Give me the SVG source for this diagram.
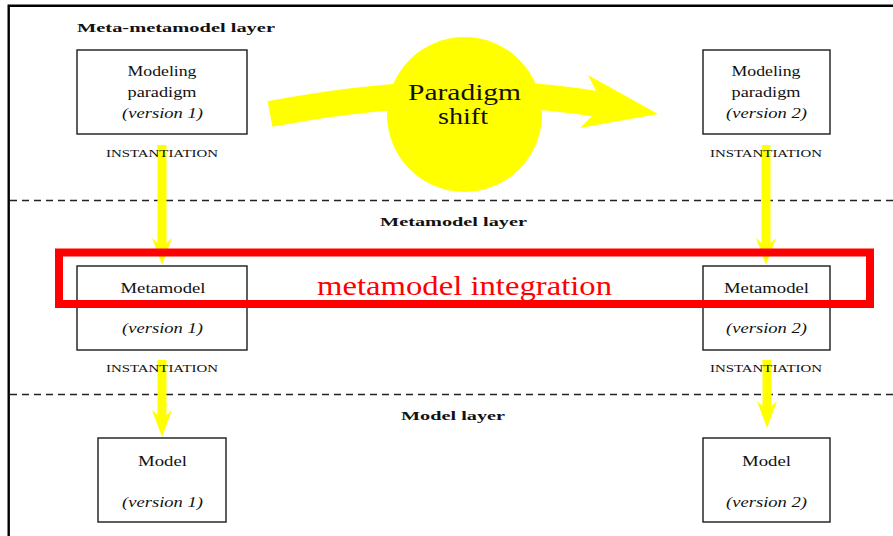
<svg xmlns="http://www.w3.org/2000/svg" width="893" height="536" viewBox="0 0 893 536">
  <style>
    .frame { stroke: #000; stroke-width: 2.4; fill: none; }
    .sep { stroke: #222; stroke-width: 1.3; stroke-dasharray: 7 5; fill: none; }
    .box { fill: #fff; stroke: #1a1a1a; stroke-width: 1.4; }
    .t { font-family: "Liberation Serif", "Times New Roman", serif; fill: #111; text-anchor: middle; }
    .name { font-size: 14px; }
    .ver { font-size: 14px; font-style: italic; }
    .layer { font-size: 13px; font-weight: bold; }
    .inst { font-size: 10px; }
    .big { font-size: 24px; }
    .shaft { stroke: #ffff00; stroke-width: 9; fill: none; }
    .yellow { fill: #ffff00; }
    .integ { fill: none; stroke: #ff0000; stroke-width: 8; }
  </style>
  <defs>
    <marker id="head" markerUnits="userSpaceOnUse" markerWidth="28" markerHeight="22" viewBox="0 -11 28 22" refX="9" refY="0" orient="auto">
      <path d="M0,-10 L27,0 L0,10 L9,0 Z" fill="#ffff00"/>
    </marker>
  </defs>

  <rect width="893" height="536" fill="#fff"/>

  <!-- outer frame: left and top edges -->
  <path class="frame" d="M8.7,536 V5.7 H893"/>

  <!-- layer separators -->
  <line class="sep" x1="10" y1="200.5" x2="893" y2="200.5"/>
  <line class="sep" x1="10" y1="394.5" x2="893" y2="394.5"/>

  <!-- layer titles -->
  <text class="t layer" x="176" y="32" textLength="198" lengthAdjust="spacingAndGlyphs">Meta-metamodel layer</text>
  <text class="t layer" x="453.5" y="226" textLength="147" lengthAdjust="spacingAndGlyphs">Metamodel layer</text>
  <text class="t layer" x="453" y="420" textLength="104" lengthAdjust="spacingAndGlyphs">Model layer</text>

  <!-- connectors -->
  <g id="connectors">
    <line class="shaft" x1="162" y1="145" x2="162" y2="247" marker-end="url(#head)"/>
    <line class="shaft" x1="766" y1="145" x2="766" y2="247" marker-end="url(#head)"/>
    <line class="shaft" x1="162" y1="360" x2="162" y2="419" marker-end="url(#head)"/>
    <line class="shaft" x1="767" y1="360" x2="767" y2="410" marker-end="url(#head)"/>
    <!-- paradigm shift arrow -->
    <path d="M270,114 Q452,79 603,105" stroke="#ffff00" stroke-width="26" fill="none"/>
    <polygon class="yellow" points="588,75 658,114 580,128 603,105"/>
  </g>

  <!-- instantiation labels -->
  <text class="t inst" x="162" y="157" textLength="112" lengthAdjust="spacingAndGlyphs">INSTANTIATION</text>
  <text class="t inst" x="766" y="157" textLength="112" lengthAdjust="spacingAndGlyphs">INSTANTIATION</text>
  <text class="t inst" x="162" y="372" textLength="112" lengthAdjust="spacingAndGlyphs">INSTANTIATION</text>
  <text class="t inst" x="766" y="372" textLength="112" lengthAdjust="spacingAndGlyphs">INSTANTIATION</text>

  <g id="paradigm-shift">
    <circle cx="464.5" cy="114.5" r="77.5" class="yellow"/>
    <text class="t big" x="464.5" y="100" textLength="113" lengthAdjust="spacingAndGlyphs">Paradigm</text>
    <text class="t big" x="463" y="124" textLength="50" lengthAdjust="spacingAndGlyphs">shift</text>
  </g>

  <g id="paradigm-v1">
    <rect class="box" x="77" y="50" width="170" height="84"/>
    <text class="t name" x="162" y="76" textLength="69" lengthAdjust="spacingAndGlyphs">Modeling</text>
    <text class="t name" x="162" y="97" textLength="69" lengthAdjust="spacingAndGlyphs">paradigm</text>
    <text class="t ver" x="162.5" y="118" textLength="81" lengthAdjust="spacingAndGlyphs">(version 1)</text>
  </g>

  <g id="paradigm-v2">
    <rect class="box" x="703" y="50" width="127" height="84"/>
    <text class="t name" x="766" y="76" textLength="69" lengthAdjust="spacingAndGlyphs">Modeling</text>
    <text class="t name" x="766" y="97" textLength="69" lengthAdjust="spacingAndGlyphs">paradigm</text>
    <text class="t ver" x="766.5" y="118" textLength="81" lengthAdjust="spacingAndGlyphs">(version 2)</text>
  </g>

  <g id="metamodel-v1">
    <rect class="box" x="77" y="266" width="170" height="84"/>
    <text class="t name" x="163" y="293" textLength="85" lengthAdjust="spacingAndGlyphs">Metamodel</text>
    <text class="t ver" x="162.5" y="333" textLength="81" lengthAdjust="spacingAndGlyphs">(version 1)</text>
  </g>

  <g id="metamodel-v2">
    <rect class="box" x="703" y="266" width="127" height="84"/>
    <text class="t name" x="766.5" y="293" textLength="85" lengthAdjust="spacingAndGlyphs">Metamodel</text>
    <text class="t ver" x="766.5" y="333" textLength="81" lengthAdjust="spacingAndGlyphs">(version 2)</text>
  </g>

  <g id="model-v1">
    <rect class="box" x="98" y="438" width="128" height="84"/>
    <text class="t name" x="162.5" y="466" textLength="49" lengthAdjust="spacingAndGlyphs">Model</text>
    <text class="t ver" x="162.5" y="507" textLength="81" lengthAdjust="spacingAndGlyphs">(version 1)</text>
  </g>

  <g id="model-v2">
    <rect class="box" x="703" y="438" width="127" height="84"/>
    <text class="t name" x="766.5" y="466" textLength="49" lengthAdjust="spacingAndGlyphs">Model</text>
    <text class="t ver" x="766.5" y="507" textLength="81" lengthAdjust="spacingAndGlyphs">(version 2)</text>
  </g>

  <g id="metamodel-integration">
    <rect class="integ" x="59" y="252.5" width="811" height="51.5"/>
    <text class="t" x="464.5" y="295" font-size="28" style="fill:#ff0000" textLength="295" lengthAdjust="spacingAndGlyphs">metamodel integration</text>
  </g>
</svg>
